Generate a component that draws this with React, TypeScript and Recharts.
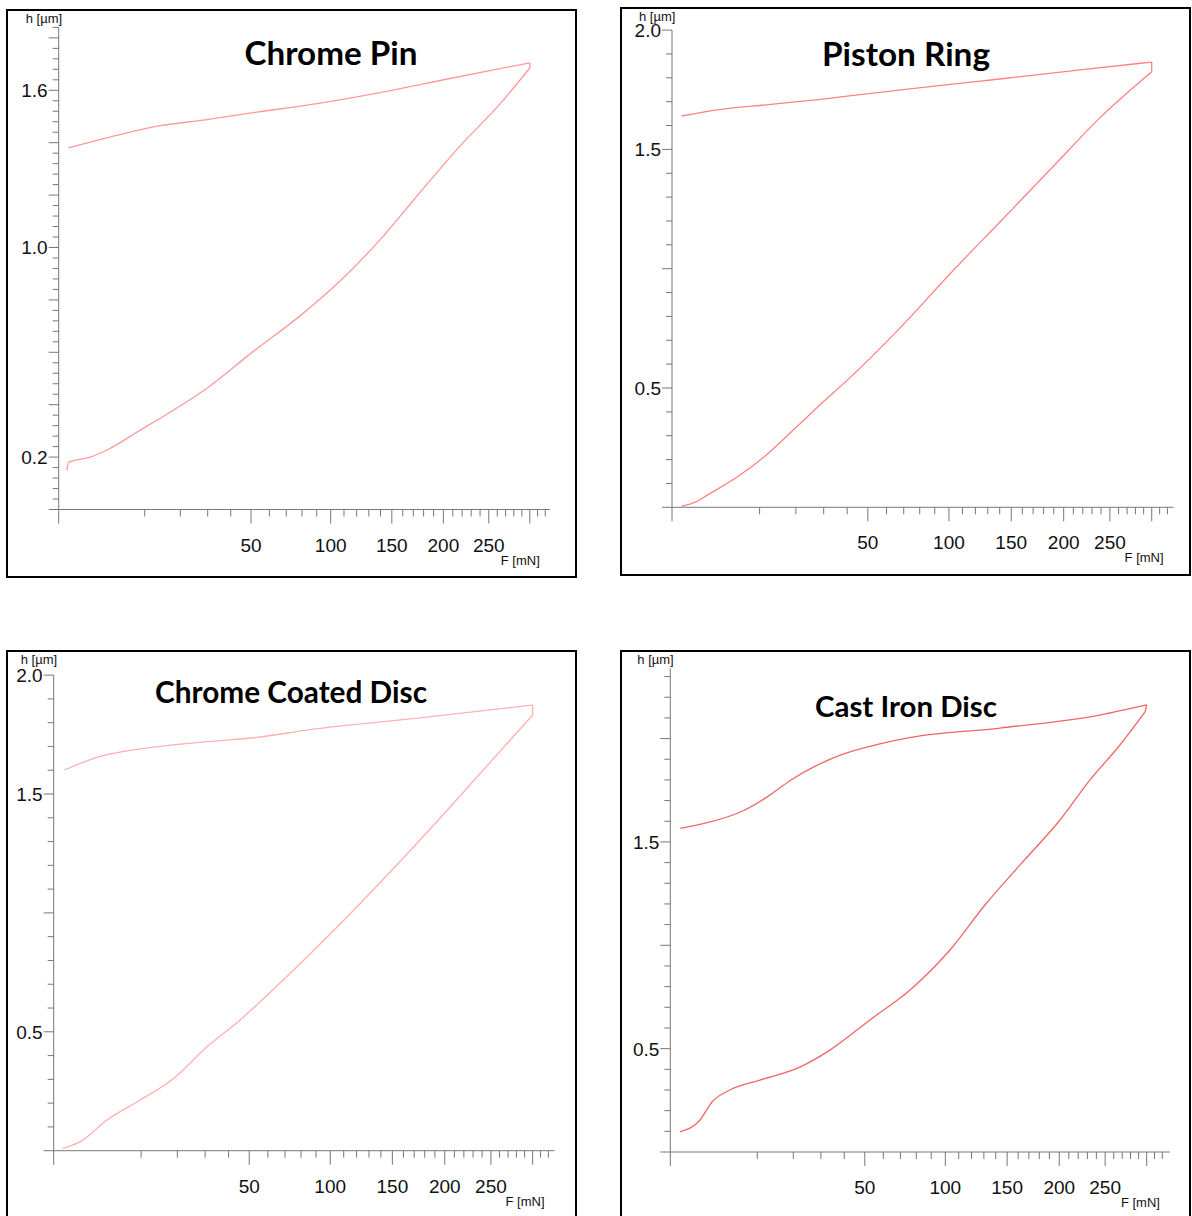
import React from "react";
import { LineChart, Line, XAxis, YAxis } from "recharts";

const AXIS = "#777";
const TICK_FONT = "'Liberation Sans', Arial, sans-serif";
const TITLE_FONT = "Lato, 'Open Sans', sans-serif";

// force axis (mN), shared by all four panels
const F_TICKS: number[] = [];
for (let v = 0; v <= 320; v += 10) F_TICKS.push(v);
const F_LABELS = [50, 100, 150, 200, 250];

// Chrome Pin (F in mN, h in µm); unloading listed from low to high force
const pinLoadF = [0.09, 0.13, 1.35, 3.15, 9.0, 17.9, 29.7, 49.4, 78.7, 107, 139.5, 176, 217.6, 263, 300];
const pinLoadH = [0.15, 0.18, 0.2, 0.227, 0.303, 0.38, 0.463, 0.593, 0.739, 0.872, 1.029, 1.208, 1.387, 1.547, 1.685];
const pinUnloadF = [0.13, 3.15, 13.1, 29.7, 53.2, 83.4, 139.5, 207, 300];
const pinUnloadH = [1.38, 1.418, 1.463, 1.488, 1.517, 1.543, 1.591, 1.645, 1.705];
const pinYLabels = [0.2, 1.0, 1.6];

// Piston Ring
const ringLoadF = [0.12, 0.75, 1.66, 5.6, 11.1, 19.5, 28.9, 40.2, 67.7, 100.7, 140.2, 186.2, 238.7, 300];
const ringLoadH = [0.005, 0.023, 0.052, 0.128, 0.212, 0.328, 0.433, 0.534, 0.751, 0.978, 1.196, 1.414, 1.632, 1.825];
const ringUnloadF = [0.12, 3.13, 12.8, 28.9, 51.6, 80.8, 140, 217, 300];
const ringUnloadH = [1.64, 1.668, 1.689, 1.71, 1.735, 1.759, 1.795, 1.833, 1.866];
const ringYLabels = [0.5, 1.5, 2.0];

// Chrome Coated Disc
const coatLoadF = [0.11, 0.93, 3.7, 9.8, 18.8, 30.7, 45.5, 67, 100, 139.4, 185.3, 237.8, 300];
const coatLoadH = [0.01, 0.038, 0.129, 0.213, 0.304, 0.437, 0.55, 0.705, 0.911, 1.128, 1.353, 1.586, 1.832];
const coatUnloadF = [0.15, 2.45, 14, 30.7, 54, 83.9, 175.5, 300];
const coatUnloadH = [1.601, 1.654, 1.699, 1.72, 1.738, 1.769, 1.82, 1.874];
const coatYLabels = [0.5, 1.5, 2.0];

// Cast Iron Disc
const ironLoadF = [0.12, 1.17, 2.3, 4.7, 10.6, 22.2, 33.7, 52.7, 76, 103.4, 130.9, 161.7, 200.8, 232.9, 267.3, 298];
const ironLoadH = [0.097, 0.155, 0.242, 0.3, 0.348, 0.411, 0.493, 0.639, 0.784, 0.977, 1.195, 1.389, 1.606, 1.8, 1.969, 2.129];
const ironUnloadF = [0.13, 1.53, 6.6, 12.5, 19.3, 27.4, 38.5, 53.3, 76.6, 143.7, 244, 300];
const ironUnloadH = [1.566, 1.59, 1.646, 1.719, 1.8, 1.864, 1.921, 1.964, 2.006, 2.051, 2.114, 2.163];
const ironYLabels = [0.5, 1.5];

function steps(max: number, step: number) {
  const out: number[] = [];
  for (let i = 0; i * step <= max + 1e-9; i++) out.push(Math.round(i * step * 1000) / 1000);
  return out;
}

const near = (a: number, b: number) => Math.abs(a - b) < 1e-6;
const zip = (f: number[], h: number[]) => f.map((v, i) => ({ f: v, h: h[i] }));

// pixel layout of each panel (page coordinates)
const panels = [
  { title: "Chrome Pin", titleX: 331, titleY: 65, titleSize: 33, titleW: 173,
    load: zip(pinLoadF, pinLoadH), unload: zip(pinUnloadF, pinUnloadH), labels: pinYLabels,
    color: "#ff9a9a", left: 6, top: 9, w: 571, ht: 569, x0: 58.7, xEnd: 549.8, fMax: 326,
    y0: 509.5, yTop: 27.4, hMax: 1.84, yStep: 0.04, yMed: 0.2 },
  { title: "Piston Ring", titleX: 906, titleY: 66, titleSize: 33, titleW: 168,
    load: zip(ringLoadF, ringLoadH), unload: zip(ringUnloadF, ringUnloadH), labels: ringYLabels,
    color: "#ff8282", left: 620, top: 7, w: 571, ht: 569, x0: 672, xEnd: 1173.6, fMax: 328,
    y0: 507.3, yTop: 30.1, hMax: 2.0, yStep: 0.1, yMed: 0.5 },
  { title: "Chrome Coated Disc", titleX: 291, titleY: 703, titleSize: 30, titleW: 272,
    load: zip(coatLoadF, coatLoadH), unload: zip(coatUnloadF, coatUnloadH), labels: coatYLabels,
    color: "#ffb0b0", left: 6, top: 650, w: 571, ht: 568, x0: 53.7, xEnd: 554.5, fMax: 328,
    y0: 1150.7, yTop: 675.1, hMax: 2.0, yStep: 0.1, yMed: 0.5 },
  { title: "Cast Iron Disc", titleX: 906, titleY: 717, titleSize: 29, titleW: 182,
    load: zip(ironLoadF, ironLoadH), unload: zip(ironUnloadF, ironUnloadH), labels: ironYLabels,
    color: "#f26666", left: 620, top: 650, w: 571, ht: 568, x0: 670.3, xEnd: 1169.9, fMax: 330,
    y0: 1152, yTop: 668.3, hMax: 2.34, yStep: 0.1, yMed: 0.5 },
];

type PanelCfg = (typeof panels)[number];

function XTick(props: any) {
  const { x, y, payload } = props;
  const v = payload.value;
  const major = v % 50 === 0;
  return (
    <g>
      <line x1={x} x2={x} y1={y} y2={y + (major ? 14 : 7)} stroke={AXIS} strokeWidth={1} />
      {F_LABELS.includes(v) && (
        <text x={x} y={y + 42} textAnchor="middle" fontSize={19} fontFamily={TICK_FONT} fill="#111">
          {v}
        </text>
      )}
    </g>
  );
}

function makeYTick(labels: number[], med: number) {
  return (props: any) => {
    const { x, y, payload } = props;
    const v = payload.value;
    const isMed = near(v / med, Math.round(v / med));
    const lab = labels.some((l) => near(l, v));
    return (
      <g>
        <line x1={x - (isMed ? 10 : 6)} x2={x} y1={y} y2={y} stroke={AXIS} strokeWidth={1} />
        {lab && (
          <text x={x - 11} y={y + 7} textAnchor="end" fontSize={19} fontFamily={TICK_FONT} fill="#111">
            {v.toFixed(1)}
          </text>
        )}
      </g>
    );
  };
}

function Panel({ p }: { p: PanelCfg }) {
  const hold = [p.load[p.load.length - 1], p.unload[p.unload.length - 1]];
  const mt = p.yTop - p.top;
  const mr = p.left + p.w - p.xEnd;
  const yw = p.x0 - p.left;
  const xh = p.top + p.ht - p.y0;
  return (
    <div style={{ position: "absolute", left: p.left, top: p.top, width: p.w, height: p.ht }}>
      <LineChart width={p.w} height={p.ht} margin={{ top: mt, right: mr, left: 0, bottom: 0 }}>
        <XAxis
          dataKey="f"
          type="number"
          scale="sqrt"
          domain={[0, p.fMax]}
          ticks={F_TICKS}
          interval={0}
          tickSize={0}
          tickMargin={0}
          tickLine={false}
          tick={XTick}
          height={xh}
          axisLine={{ stroke: AXIS }}
          allowDataOverflow
        />
        <YAxis
          type="number"
          domain={[0, p.hMax]}
          ticks={steps(p.hMax, p.yStep)}
          interval={0}
          tickSize={0}
          tickMargin={0}
          tickLine={false}
          tick={makeYTick(p.labels, p.yMed)}
          width={yw}
          axisLine={{ stroke: AXIS }}
          allowDataOverflow
        />
        <Line data={p.load} type="monotone" dataKey="h" stroke={p.color} strokeWidth={1.3} dot={false} isAnimationActive={false} />
        <Line data={hold} type="linear" dataKey="h" stroke={p.color} strokeWidth={1.3} dot={false} isAnimationActive={false} />
        <Line data={p.unload} type="monotone" dataKey="h" stroke={p.color} strokeWidth={1.3} dot={false} isAnimationActive={false} />
      </LineChart>
      <svg width={p.w} height={p.ht} style={{ position: "absolute", left: 0, top: 0, pointerEvents: "none" }}>
        <text x={p.titleX - p.left} y={p.titleY - p.top} textAnchor="middle" fontFamily={TITLE_FONT} fontWeight={700}
          fontSize={p.titleSize} textLength={p.titleW} lengthAdjust="spacingAndGlyphs" fill="#000">
          {p.title}
        </text>
        <text x={p.x0 - p.left - 33} y={14} fontFamily={TICK_FONT} fontSize={13} fill="#111">
          h [µm]
        </text>
        <text x={p.xEnd - p.left - 10} y={p.y0 - p.top + 55} textAnchor="end" fontFamily={TICK_FONT} fontSize={13} fill="#111">
          F [mN]
        </text>
      </svg>
      <div style={{ position: "absolute", left: 0, top: 0, width: p.w, height: p.ht, boxSizing: "border-box",
        border: "2px solid #000", pointerEvents: "none" }} />
    </div>
  );
}

export default function App() {
  return (
    <div style={{ position: "absolute", left: 0, top: 0, width: 1192, height: 1216, background: "#fff", overflow: "hidden" }}>
      {panels.map((p) => (
        <Panel key={p.title} p={p} />
      ))}
    </div>
  );
}
